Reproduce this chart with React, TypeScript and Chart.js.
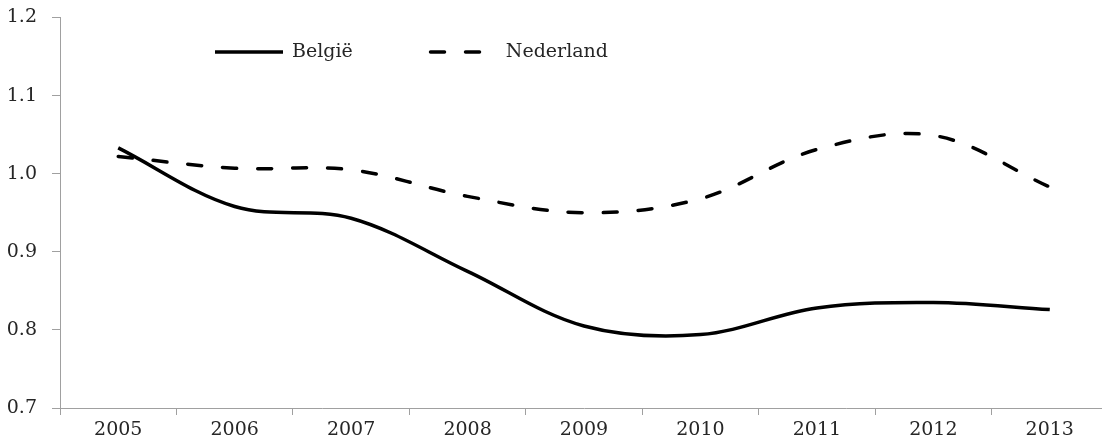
import { useEffect, useRef } from "react"
import { Chart, registerables } from "chart.js"

Chart.register(...registerables)

const years = ["2005", "2006", "2007", "2008", "2009", "2010", "2011", "2012", "2013"]
const belgie = [1.033, 0.958, 0.943, 0.875, 0.805, 0.794, 0.828, 0.835, 0.826]
const nederland = [1.022, 1.007, 1.005, 0.971, 0.95, 0.968, 1.031, 1.049, 0.983]
const seriesLabels = ["België", "Nederland"]

const FONT = "'DejaVu Serif', serif"
const TEXT = "#262626"
const AXIS = "#a0a0a0"

// legend drawn by hand: a line sample, then the label, in one row
const lineLegend = {
  id: "lineLegend",
  afterDraw(chart: any) {
    const { ctx } = chart
    const y = 52
    let x = 215
    ctx.save()
    ctx.font = `19px ${FONT}`
    ctx.textBaseline = "middle"
    ctx.textAlign = "left"
    chart.data.datasets.forEach((ds: any) => {
      const dash = ds.borderDash || []
      ctx.beginPath()
      ctx.setLineDash(dash)
      ctx.lineCap = dash.length ? "round" : "butt"
      ctx.lineWidth = ds.borderWidth
      ctx.strokeStyle = ds.borderColor
      const off = dash.length ? ds.borderWidth / 2 : 0
      ctx.moveTo(x + off, y)
      ctx.lineTo(x + 68, y)
      ctx.stroke()
      ctx.setLineDash([])
      ctx.fillStyle = TEXT
      ctx.fillText(ds.label, x + 77, y)
      x += 77 + ctx.measureText(ds.label).width + 76
    })
    ctx.restore()
  },
}

export default function App() {
  const chartRef = useRef<HTMLCanvasElement>(null)
  const chartInstance = useRef<Chart | null>(null)

  useEffect(() => {
    if (!chartRef.current) return
    if (chartInstance.current) chartInstance.current.destroy()

    chartInstance.current = new Chart(chartRef.current, {
      type: "line",
      data: {
        labels: years,
        datasets: [
          {
            label: seriesLabels[0],
            data: belgie,
            borderColor: "#000",
            borderWidth: 3.5,
            tension: 0.35,
            pointRadius: 0,
            fill: false,
          },
          {
            label: seriesLabels[1],
            data: nederland,
            borderColor: "#000",
            borderWidth: 3.5,
            borderDash: [14, 21],
            borderCapStyle: "round",
            tension: 0.35,
            pointRadius: 0,
            fill: false,
          },
        ],
      },
      options: {
        animation: false,
        responsive: true,
        maintainAspectRatio: false,
        layout: { padding: { top: 17.5, right: 2, left: 0, bottom: 0 } },
        plugins: {
          legend: { display: false },
          tooltip: { enabled: false },
        },
        scales: {
          x: {
            offset: true,
            grid: { offset: true, drawOnChartArea: false, drawTicks: true, tickLength: 7, color: AXIS },
            border: { color: AXIS },
            ticks: { color: TEXT, font: { family: FONT, size: 19 }, padding: 4, maxRotation: 0 },
            afterFit: (scale: any) => {
              scale.height = 33
            },
          },
          y: {
            min: 0.7,
            max: 1.2,
            grid: { drawOnChartArea: false, drawTicks: true, tickLength: 8, color: AXIS },
            border: { color: AXIS },
            ticks: {
              stepSize: 0.1,
              color: TEXT,
              font: { family: FONT, size: 19 },
              padding: 15,
              callback: (v: any) => Number(v).toFixed(1),
            },
            afterFit: (scale: any) => {
              scale.width = 60
              // let layout.padding decide where the plot starts
              scale.paddingTop = 0
              scale.paddingBottom = 0
            },
          },
        },
      },
      plugins: [lineLegend],
    })

    return () => {
      if (chartInstance.current) {
        chartInstance.current.destroy()
        chartInstance.current = null
      }
    }
  }, [])

  return (
    <div style={{ position: "fixed", left: 0, top: 0, width: 1102, height: 441, overflow: "hidden", background: "#fff" }}>
      <div style={{ position: "relative", width: 1110, height: 441 }}>
        <canvas ref={chartRef} />
      </div>
    </div>
  )
}
